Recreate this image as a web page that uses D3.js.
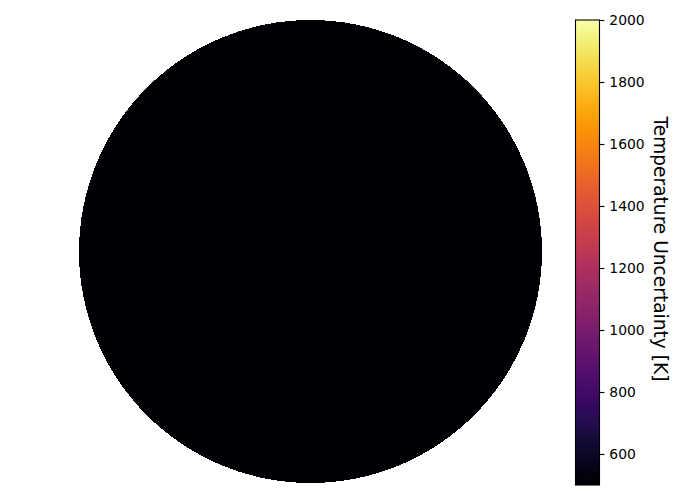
<!DOCTYPE html>
<html><head><meta charset="utf-8">
<script src="https://cdn.jsdelivr.net/npm/d3@7"></script>
<style>body{margin:0;background:#fff}svg{display:block}</style>
</head><body>
<svg id="c" width="700" height="500"></svg>
<script>
const colorDomain = [500, 2000];
const colorTicks = [600, 800, 1000, 1200, 1400, 1600, 1800, 2000];
const diskValues = [500];
const colorLabel = "Temperature Uncertainty [K]";

const svg = d3.select("#c");
const color = d3.scaleSequential(d3.interpolateInferno).domain(colorDomain);

const xs = d3.scaleLinear().domain([-1, 1]).range([79, 542]);
const ys = d3.scaleLinear().domain([-1, 1]).range([483, 20]);
svg.selectAll("circle.disk").data(diskValues).join("circle")
  .attr("class", "disk")
  .attr("cx", xs(0)).attr("cy", ys(0))
  .attr("r", xs(1) - xs(0))
  .attr("fill", d => color(d))
  .attr("shape-rendering", "crispEdges");

const cbX = 575.5, cbW = 24;
const cy = d3.scaleLinear().domain(colorDomain).range([485, 20]);
const defs = svg.append("defs");
const grad = defs.append("linearGradient").attr("id", "cbg")
  .attr("x1", 0).attr("y1", 1).attr("x2", 0).attr("y2", 0);
d3.range(0, 1.0001, 0.02).forEach(t => {
  grad.append("stop").attr("offset", t).attr("stop-color", d3.interpolateInferno(t));
});
svg.append("rect").attr("x", cbX).attr("y", cy(colorDomain[1]))
  .attr("width", cbW).attr("height", cy(colorDomain[0]) - cy(colorDomain[1]))
  .attr("fill", "url(#cbg)").attr("stroke", "#000").attr("stroke-width", 1.1);

const axis = d3.axisRight(cy).tickValues(colorTicks).tickSize(4.9).tickPadding(4.9).tickFormat(d3.format("d"));
const g = svg.append("g").attr("transform", `translate(${cbX + cbW},0)`).call(axis);
g.select(".domain").remove();
g.selectAll("text").style("font-family", "'DejaVu Sans'").style("font-size", "13.9px").attr("fill", "#000");
g.selectAll("line").attr("stroke", "#000").attr("stroke-width", 1.1);

svg.append("text")
  .attr("transform", `translate(653.5,249) rotate(90)`)
  .attr("text-anchor", "middle")
  .style("font-family", "'DejaVu Sans'").style("font-size", "18.6px")
  .attr("fill", "#000")
  .text(colorLabel);
</script>
</body></html>
